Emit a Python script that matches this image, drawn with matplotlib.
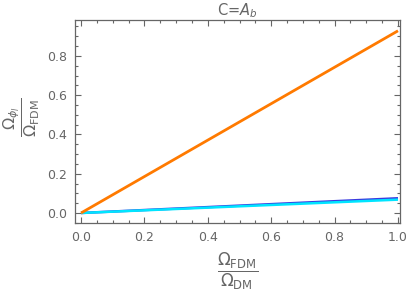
import matplotlib
matplotlib.use("Agg")
import matplotlib.pyplot as plt
from matplotlib.ticker import MultipleLocator, FormatStrFormatter

# fraction Omega_FDM / Omega_DM
x_vals = [0.0, 1.0]
# Omega_phi / Omega_FDM for each curve (linear, read at the end points)
orange_vals = [0.0, 0.928]
blue_vals = [0.0, 0.075]
cyan_vals = [0.0, 0.068]

GRAY = "#666666"
plt.rcParams["font.family"] = ["DejaVu Sans"]
plt.rcParams["mathtext.fontset"] = "dejavusans"

fig = plt.figure(figsize=(4.07, 2.96), dpi=100)
ax = fig.add_axes([75 / 407, 1 - 223 / 296, 325 / 407, 203 / 296])

ax.plot(x_vals, blue_vals, color="#3a3adf", lw=1.8, solid_capstyle="butt")
ax.plot(x_vals, cyan_vals, color="#00e5ff", lw=1.8, solid_capstyle="butt")
ax.plot(x_vals, orange_vals, color="#ff7a00", lw=2.0, solid_capstyle="butt")

ax.set_xlim(-0.019, 1.0063)
ax.set_ylim(-0.051, 0.983)

ax.xaxis.set_major_locator(MultipleLocator(0.2))
ax.xaxis.set_minor_locator(MultipleLocator(0.05))
ax.yaxis.set_major_locator(MultipleLocator(0.2))
ax.yaxis.set_minor_locator(MultipleLocator(0.05))
ax.xaxis.set_major_formatter(FormatStrFormatter("%.1f"))
ax.yaxis.set_major_formatter(FormatStrFormatter("%.1f"))

ax.tick_params(which="both", direction="in", top=True, right=True,
               color=GRAY, labelcolor=GRAY, labelsize=9, width=0.8)
ax.tick_params(which="major", length=4, pad=6)
ax.tick_params(which="minor", length=2)
for s in ax.spines.values():
    s.set_color(GRAY)
    s.set_linewidth(0.9)

ax.set_title(r"C=$A_b$", color=GRAY, fontsize=10.5, pad=2)
ax.set_xlabel(r"$\dfrac{\Omega_{\rm FDM}}{\Omega_{\rm DM}}$", color=GRAY, fontsize=12, labelpad=5)
ax.set_ylabel(r"$\dfrac{\Omega_{\phi_l}}{\Omega_{\rm FDM}}$", color=GRAY, fontsize=11.5)
ax.yaxis.set_label_coords(-0.1, 0.52)

fig.savefig("out.png", dpi=100)
